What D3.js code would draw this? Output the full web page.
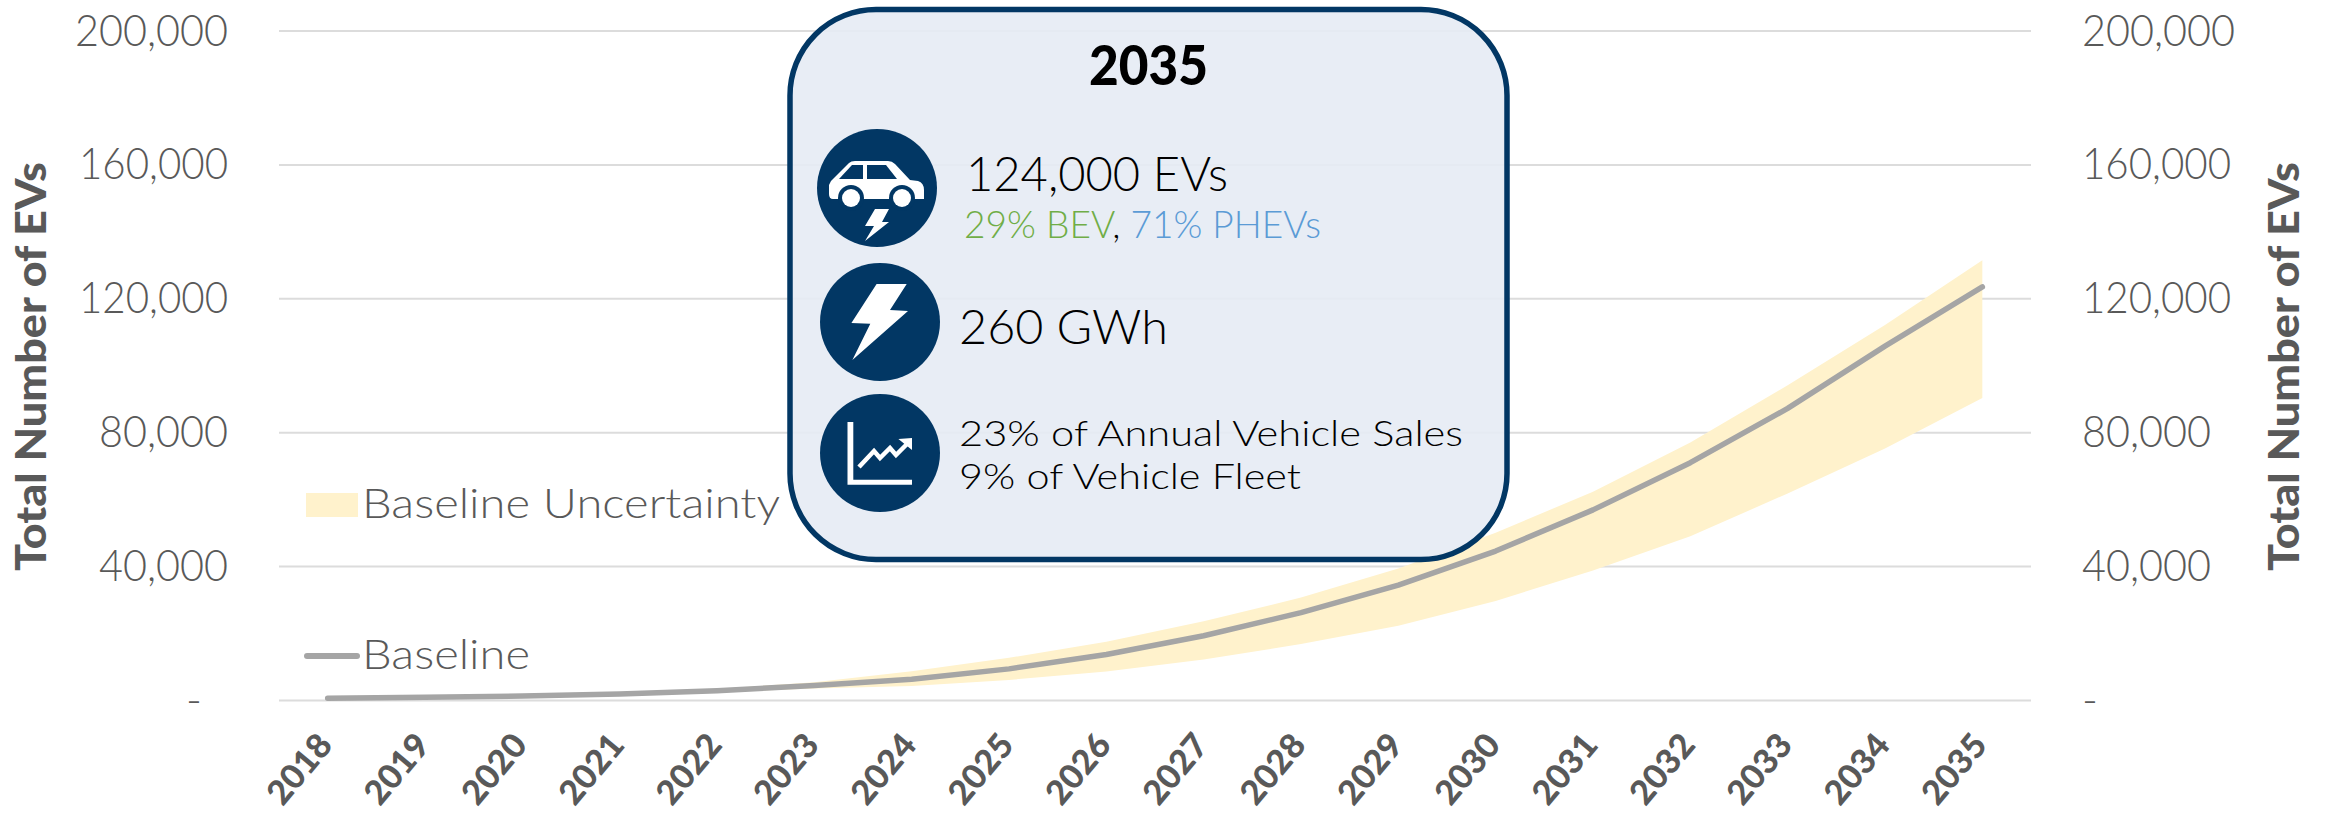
<!DOCTYPE html>
<html><head><meta charset="utf-8">
<script src="https://cdn.jsdelivr.net/npm/d3@7"></script>
<style>html,body{margin:0;padding:0;background:#fff;overflow:hidden}svg{display:block}</style>
</head><body><svg id="c" width="2335" height="814"></svg>
<script>
const years = [2018,2019,2020,2021,2022,2023,2024,2025,2026,2027,2028,2029,2030,2031,2032,2033,2034,2035];
const baseline = [500,800,1200,1800,2800,4300,6200,9300,13600,19200,26100,34300,44500,56800,70900,87100,105700,123400];
const upper    = [500,800,1250,1950,3300,5300,8600,12600,17400,23500,30600,39300,50000,62200,76900,94000,112000,131400];
const lower    = [500,800,1150,1650,2300,3400,4200,6000,8500,12100,16700,22200,29600,38700,48900,61700,75100,90200];
const yTicks = [0,40000,80000,120000,160000,200000];
const legendLabels = ["Baseline Uncertainty","Baseline"];
const axisTitle = "Total Number of EVs";

const FONT = "Lato, 'Open Sans', sans-serif", GREY = "#595959", NAVY = "#023764";
const svg = d3.select("#c");
const x = d3.scalePoint().domain(years).range([279,2031]).padding(0.5);
const y = d3.scaleLinear().domain([0,200000]).range([700,30.5]);
const fmt = d => d === 0 ? "-" : d3.format(",")(d);
const labelWidth = d => d === 0 ? null : d >= 100000 ? (d >= 200000 ? 153 : 149) : 129;

// gridlines
const grid = d3.axisLeft(y).tickValues(yTicks).tickSize(-(2031-279)).tickFormat("");
const gg = svg.append("g").attr("transform","translate(279,0)").call(grid);
gg.select(".domain").remove();
gg.selectAll("line").attr("stroke","#dcdcdc").attr("stroke-width",2);

// band and line
const idx = d3.range(years.length);
svg.append("path").datum(idx).attr("fill","#fff2cc")
  .attr("d", d3.area().x(i=>x(years[i])).y0(i=>y(lower[i])).y1(i=>y(upper[i])));
svg.append("path").datum(idx).attr("fill","none").attr("stroke","#a5a5a5").attr("stroke-width",5.5)
  .attr("stroke-linecap","round").attr("stroke-linejoin","round")
  .attr("d", d3.line().x(i=>x(years[i])).y(i=>y(baseline[i])));

// y axes
function yAxis(gen, tx, anchor){
  const g = svg.append("g").attr("transform",`translate(${tx},0)`)
    .call(gen(y).tickValues(yTicks).tickSize(0).tickPadding(0).tickFormat(fmt));
  g.select(".domain").remove();
  g.selectAll("text").attr("font-family",FONT).attr("font-weight",300).attr("font-size",43)
    .attr("fill",GREY).attr("text-anchor",anchor).attr("dy",null).attr("x",0)
    .attr("y",14.5)
    .each(function(d){ const w=labelWidth(d); if(w){ d3.select(this).attr("textLength",w).attr("lengthAdjust","spacingAndGlyphs"); } });
  return g;
}
const la = yAxis(d3.axisLeft,228,"end");
la.selectAll("text").filter(d=>d===0).attr("x",-26);
const ra = yAxis(d3.axisRight,2082,"start");

// x axis
const xa = svg.append("g").attr("transform","translate(0,700)")
  .call(d3.axisBottom(x).tickSize(0).tickPadding(0));
xa.select(".domain").remove();
xa.selectAll("text").attr("font-family",FONT).attr("font-weight",900).attr("font-size",34)
  .attr("fill",GREY).attr("text-anchor","end").attr("dy",null).attr("x",0).attr("y",0)
  .attr("textLength",80).attr("lengthAdjust","spacingAndGlyphs")
  .attr("transform","translate(6,46) rotate(-50)");

// axis titles
[[46],[2299]].forEach(([tx])=>{
  svg.append("text").attr("transform",`translate(${tx},571) rotate(-90)`)
    .attr("font-family",FONT).attr("font-weight",900).attr("font-size",42).attr("fill",GREY)
    .attr("textLength",409).attr("lengthAdjust","spacingAndGlyphs").text(axisTitle);
});

// legend
svg.append("rect").attr("x",306).attr("y",493).attr("width",52).attr("height",24).attr("fill","#fff2cc");
svg.append("line").attr("x1",307).attr("x2",357).attr("y1",656).attr("y2",656)
  .attr("stroke","#a5a5a5").attr("stroke-width",6).attr("stroke-linecap","round");
function label(parent,t,px,py,size,w,opts={}){
  const s = parent.append("text").attr("x",px).attr("y",py).attr("font-family",FONT)
    .attr("font-weight",opts.weight||300).attr("font-size",size).attr("fill",opts.fill||"#000")
    .attr("textLength",w).attr("lengthAdjust","spacingAndGlyphs");
  if(t) s.text(t);
  return s;
}
label(svg,legendLabels[0],362,518,41,418,{fill:GREY});
label(svg,legendLabels[1],362,669,41,168,{fill:GREY});

// callout
svg.append("rect").attr("x",790).attr("y",9.5).attr("width",717).attr("height",550)
  .attr("rx",86).attr("ry",86).attr("fill","#e6ebf4").attr("fill-opacity",0.9)
  .attr("stroke",NAVY).attr("stroke-width",5.5);
label(svg,"2035",1089,85,55,119,{weight:900});
label(svg,"124,000 EVs",966,191,47,262,{weight:300});
const mix = label(svg,null,964,238,37,357,{weight:300});
mix.append("tspan").attr("fill","#70ad47").text("29% BEV");
mix.append("tspan").attr("fill","#000").text(", ");
mix.append("tspan").attr("fill","#5b9bd5").text("71% PHEVs");
label(svg,"260 GWh",959,344,47,209,{weight:300});
label(svg,"23% of Annual Vehicle Sales",959,446,36,504,{weight:300});
label(svg,"9% of Vehicle Fleet",959,489,36,342,{weight:300});

// icons
const poly = d3.line().curve(d3.curveLinearClosed);
const ic1 = svg.append("g").attr("transform","translate(877,188)");
ic1.append("ellipse").attr("rx",60).attr("ry",59).attr("fill",NAVY);
ic1.append("path").attr("fill","#fff").attr("d","M-46,-7 L-28,-25 Q-26,-27 -22,-27 L11,-27 Q15,-27 18,-24 L33,-8 L41,-7 Q47,-5 47,2 L47,11 L-44,11 Q-48,11 -48,6 L-48,-3 Z");
ic1.append("path").attr("fill",NAVY).attr("d",poly([[-38,-9],[-25,-23],[-14,-23],[-14,-9]]));
ic1.append("path").attr("fill",NAVY).attr("d",poly([[-10,-23],[9,-23],[20,-9],[-10,-9]]));
[-26,25].forEach(cx=>{
  ic1.append("circle").attr("cx",cx).attr("cy",10).attr("r",13).attr("fill",NAVY);
  ic1.append("circle").attr("cx",cx).attr("cy",10).attr("r",9).attr("fill","#fff");
});
ic1.append("path").attr("fill","#fff").attr("d",poly([[-2,21],[12,21],[5,34],[12,34],[-12,53],[-3,38],[-12,38]]));

const ic2 = svg.append("g").attr("transform","translate(880,322)");
ic2.append("ellipse").attr("rx",60).attr("ry",59).attr("fill",NAVY);
ic2.append("path").attr("fill","#fff").attr("d",poly([[-3.4,-38],[26.7,-38],[10,-12],[28,-11],[-27.6,38],[-9.7,1.7],[-28.6,1]]));

const ic3 = svg.append("g").attr("transform","translate(880,453)");
ic3.append("ellipse").attr("rx",60).attr("ry",59).attr("fill",NAVY);
ic3.append("path").attr("fill","#fff").attr("d",poly([[-32.5,-31],[-26.7,-31],[-26.7,26.7],[32,26.7],[32,31.7],[-32.5,31.7]]));
ic3.append("path").attr("fill","none").attr("stroke","#fff").attr("stroke-width",4.5)
  .attr("d",d3.line()([[-21,14],[-6,-2],[0,5],[10,-5],[16,2],[27,-9]]));
ic3.append("path").attr("fill","#fff").attr("d",poly([[32,-15],[18.4,-14],[32,-3]]));
</script></body></html>
